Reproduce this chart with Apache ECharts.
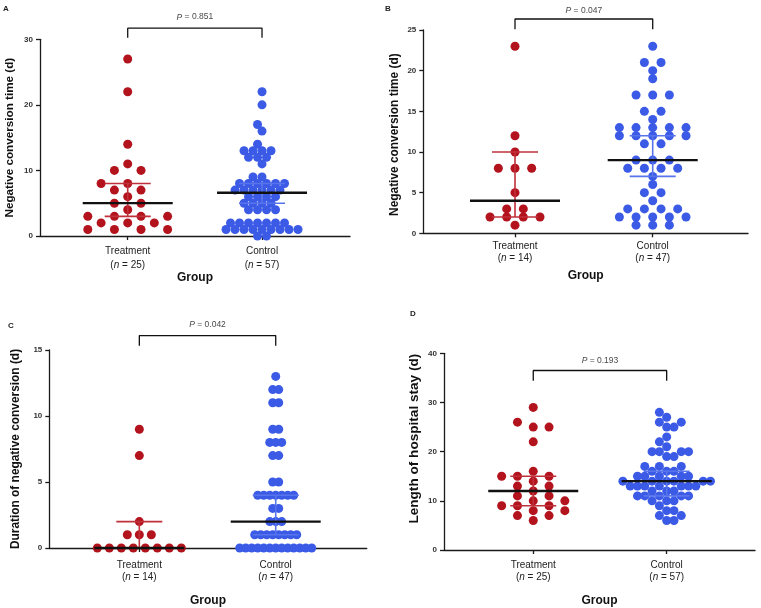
<!DOCTYPE html>
<html><head><meta charset="utf-8">
<script src="https://cdn.jsdelivr.net/npm/echarts@6/dist/echarts.min.js"></script>
<style>html,body{margin:0;padding:0;background:#fff}#c{width:761px;height:608px}</style>
</head><body><div id="c"></div>
<script>
// ---------------- data ----------------
const groups = ['Treatment', 'Control'];
const panelLetters = ['A', 'B', 'C', 'D'];
const yTitles = ['Negative conversion time (d)', 'Negative conversion time (d)',
                 'Duration of negative conversion (d)', 'Length of hospital stay (d)'];
const yMaxes = [30, 25, 15, 40];
const yIntervals = [10, 5, 5, 10];
const nCounts = [[25, 57], [14, 47], [14, 47], [25, 57]];
const pValues = ['0.851', '0.047', '0.042', '0.193'];

const aTreatment = [27,22,14,11,10,10,8,8,7,7,6,5,5,4,3,3,3,3,2,2,2,1,1,1,1];
const aControl = [22,20,17,16,14,13,13,13,13,12,12,12,11,9,9,8,8,8,8,8,8,7,7,7,7,7,7,
                  6,6,6,6,5,5,5,5,4,4,4,4,2,2,2,2,2,2,2,1,1,1,1,1,1,1,1,1,0,0];
const bTreatment = [23,12,10,8,8,8,5,3,3,2,2,2,2,1];
const bControl = [23,21,21,20,19,17,17,17,15,15,14,13,13,13,13,13,12,12,12,12,12,11,11,
                  9,9,9,8,8,8,8,7,6,5,5,4,3,3,3,3,2,2,2,2,2,1,1,1];
const cTreatment = [9,7,2,1,1,1,0,0,0,0,0,0,0,0];
const cControl = [13,12,12,11,11,9,9,8,8,8,7,7,5,5,4,4,4,4,4,4,4,3,3,2,2,2,
                  1,1,1,1,1,1,1,1,0,0,0,0,0,0,0,0,0,0,0,0,0];
const dTreatment = [29,26,25,25,22,16,15,15,15,14,13,13,12,11,11,10,10,9,9,9,8,8,7,7,6];
const dControl = [28,27,26,26,25,25,23,22,21,20,20,20,20,19,19,17,17,17,16,16,16,
                  15,15,15,15,15,14,14,14,14,14,14,13,13,13,13,13,13,13,12,12,12,
                  11,11,11,11,11,10,10,10,9,8,8,7,7,6,6];
const panelValues = [[aTreatment, aControl], [bTreatment, bControl],
                     [cTreatment, cControl], [dTreatment, dControl]];

const medians = [[5, 6.6], [4, 9], [0, 2], [12, 14]];
const lowerQuartiles = [[3, 5], [2, 7], [0, 1], [9, 11]];
const upperQuartiles = [[8, 8], [10, 12], [2, 4], [15, 16]];

// ---------------- layout / style ----------------
const FONT = 'Liberation Sans, Arial, Helvetica, sans-serif';
const dotColors = ['#b3131d', '#3b5ae6'];
const barColors = ['#c0303a', '#5874ec'];
const layout = [
  {grid:{left:40, top:39.3, width:310, height:196.7}, xMin:0.347, xMax:2.655, letter:[3, 5],
   titleSize:11.7, titleGap:24, titlePad:[0,0,0,0], labMargin:8.7, labLH:14, groupGap:34,
   pDist:6, bTop:31.7, bFoot:30.24,
   swarm:[{L:13.3,k:2,B:9.3},{L:4.5,k:2,B:9.3}]},
  {grid:{left:423.3, top:30, width:324.7, height:203.3}, xMin:0.334, xMax:2.692, letter:[385, 5],
   titleSize:11.9, titleGap:23, titlePad:[0,6,0,0], labMargin:6.4, labLH:12.5, groupGap:36.5,
   pDist:3, bTop:26.35, bFoot:25.08,
   swarm:[{L:8.33,k:2,B:0},{L:8.33,k:2,B:0}]},
  {grid:{left:49.3, top:350, width:317.4, height:198.7}, xMin:0.340, xMax:2.667, letter:[8, 322],
   titleSize:11.9, titleGap:28, titlePad:[0,0,0,0], labMargin:10.7, labLH:12.6, groupGap:47,
   pDist:5.5, bTop:16.09, bFoot:15.33,
   swarm:[{L:6,k:2,B:0},{L:3,k:2,B:0}]},
  {grid:{left:444, top:353.3, width:311, height:197.7}, xMin:0.331, xMax:2.662, letter:[410, 310],
   titleSize:13.6, titleGap:23, titlePad:[0,0,0,26], labMargin:8.8, labLH:12.3, groupGap:45,
   pDist:5, bTop:36.5, bFoot:34.4,
   swarm:[{L:15.8,k:1,B:8},{L:7.3,k:1,B:8}]}
];
const dotSize = 9;

// ---------------- swarm layout (computed from the values) ----------------
function swarm(values, cfg, pxY) {
  const rows = new Map();
  values.forEach((v, idx) => { if (!rows.has(v)) rows.set(v, []); rows.get(v).push(idx); });
  const keys = [...rows.keys()].sort((a, b) => a - b);
  const placed = [];
  const out = new Array(values.length);
  const blocked = (c, y) => placed.some(p => Math.abs(p.y - y) < cfg.B && Math.abs(p.c - c) < 0.01);
  let sign = 1;
  for (const v of keys) {
    const idxs = rows.get(v), n = idxs.length, y = v * pxY;
    if (cfg.k === 1) {
      // point-by-point placement on the lattice, alternating sides
      for (const idx of idxs) {
        let c = 0;
        for (let s = 0; s <= 30; s++) {
          const opts = s === 0 ? [0] : [sign * s, -sign * s];
          const free = opts.find(o => !blocked(o, y));
          if (free !== undefined) { c = free; break; }
        }
        if (c !== 0) sign = -Math.sign(c);
        placed.push({c, y}); out[idx] = c * cfg.L;
      }
      continue;
    }
    const base = idxs.map((_, i) => (i - (n - 1) / 2) * cfg.k);
    const cands = [0];
    for (let s = 1; s <= 14; s++) cands.push(-s, s);
    let best = 0, bestHits = Infinity;
    for (const s of cands) {
      let hits = 0;
      for (const b of base) if (blocked(b + s, y)) hits++;
      if (hits < bestHits) { bestHits = hits; best = s; if (hits === 0) break; }
    }
    base.forEach((b, i) => { const c = b + best; placed.push({c, y}); out[idxs[i]] = c * cfg.L; });
  }
  return out;
}

// ---------------- build option ----------------
const chart = echarts.init(document.getElementById('c'), null, {renderer: 'canvas'});
const grids = [], xAxes = [], yAxes = [], series = [], graphics = [];
const axisCol = '#1a1a1a';

layout.forEach((L, i) => {
  grids.push(Object.assign({containLabel: false}, L.grid));
  const ns = nCounts[i];
  xAxes.push({
    type: 'value', gridIndex: i, min: L.xMin, max: L.xMax,
    axisLine: {show: true, onZero: false, lineStyle: {color: axisCol, width: 1.3}},
    axisTick: {show: true, customValues: [1, 2], length: 4, lineStyle: {color: axisCol, width: 1.3}},
    axisLabel: {
      show: true, customValues: [1, 2], margin: L.labMargin,
      formatter: v => { const g = Math.round(v) - 1; return '{a|' + groups[g] + '}\n{a|(}{i|n}{a| = ' + ns[g] + ')}'; },
      rich: {
        a: {fontSize: 10, color: '#222', fontFamily: FONT, lineHeight: L.labLH},
        i: {fontSize: 10, color: '#222', fontFamily: FONT, fontStyle: 'italic', lineHeight: L.labLH}
      }
    },
    splitLine: {show: false},
    name: 'Group', nameLocation: 'middle', nameGap: L.groupGap,
    nameTextStyle: {fontSize: 12, fontWeight: 'bold', color: '#111', fontFamily: FONT}
  });
  yAxes.push({
    type: 'value', gridIndex: i, min: 0, max: yMaxes[i], interval: yIntervals[i],
    axisLine: {show: true, onZero: false, lineStyle: {color: axisCol, width: 1.3}},
    axisTick: {show: true, length: 4, lineStyle: {color: axisCol, width: 1.3}},
    axisLabel: {fontSize: 8, fontWeight: 'bold', color: '#333', fontFamily: FONT, margin: 7},
    splitLine: {show: false},
    name: yTitles[i], nameLocation: 'middle', nameRotate: 90, nameGap: L.titleGap,
    nameTextStyle: {fontSize: L.titleSize, fontWeight: 'bold', color: '#111', fontFamily: FONT, padding: L.titlePad}
  });
  [0, 1].forEach(g => {
    series.push({
      id: 'dots-' + i + '-' + g, type: 'scatter', xAxisIndex: i, yAxisIndex: i,
      symbol: 'circle', symbolSize: dotSize, clip: false, silent: true, z: 2,
      itemStyle: {color: dotColors[g], opacity: 1},
      data: []
    });
  });
  series.push({
    type: 'custom', xAxisIndex: i, yAxisIndex: i, z: 5, silent: true, clip: false,
    encode: {x: 0, y: 1},
    data: [[1, medians[i][0], lowerQuartiles[i][0], upperQuartiles[i][0], 0],
           [2, medians[i][1], lowerQuartiles[i][1], upperQuartiles[i][1], 1]],
    renderItem: (params, api) => {
      const x = api.value(0), g = api.value(4);
      const pm = api.coord([x, api.value(1)]);
      const p1 = api.coord([x, api.value(2)]);
      const p3 = api.coord([x, api.value(3)]);
      const c = barColors[g], hw = 23, mw = 45;
      const st = {stroke: c, lineWidth: 1.6};
      return {type: 'group', children: [
        {type: 'line', shape: {x1: p1[0], y1: p1[1], x2: p3[0], y2: p3[1]}, style: st},
        {type: 'line', shape: {x1: p1[0] - hw, y1: p1[1], x2: p1[0] + hw, y2: p1[1]}, style: st},
        {type: 'line', shape: {x1: p3[0] - hw, y1: p3[1], x2: p3[0] + hw, y2: p3[1]}, style: st},
        {type: 'line', shape: {x1: pm[0] - mw, y1: pm[1], x2: pm[0] + mw, y2: pm[1]},
         style: {stroke: '#111', lineWidth: 2.3}}
      ]};
    }
  });
  series.push({
    type: 'line', xAxisIndex: i, yAxisIndex: i, clip: false, silent: true, z: 4,
    symbol: 'none', lineStyle: {color: '#111', width: 1.3},
    data: [[1, L.bFoot], [1, L.bTop], [2, L.bTop], [2, L.bFoot]]
  });
  series.push({
    type: 'scatter', xAxisIndex: i, yAxisIndex: i, clip: false, silent: true, z: 4,
    symbolSize: 1, itemStyle: {color: 'rgba(0,0,0,0)'},
    data: [[1.5, L.bTop]],
    label: {show: true, position: 'top', distance: L.pDist,
      formatter: '{i|P}{t| = ' + pValues[i] + '}',
      rich: {i: {fontSize: 8.5, fontStyle: 'italic', color: '#111', fontFamily: FONT},
             t: {fontSize: 8.5, color: '#111', fontFamily: FONT}}}
  });
  graphics.push({type: 'text', left: L.letter[0], top: L.letter[1],
    style: {text: panelLetters[i], font: 'bold 8px ' + FONT, fill: '#222'}});
});

chart.setOption({
  animation: false, backgroundColor: '#fff',
  grid: grids, xAxis: xAxes, yAxis: yAxes, series: series, graphic: graphics
});

// place dots: swarm offsets converted through the axes' scales
const upd = [];
layout.forEach((L, i) => {
  const p10 = chart.convertToPixel({gridIndex: i}, [1, 0]);
  const p21 = chart.convertToPixel({gridIndex: i}, [2, 1]);
  const pxX = p21[0] - p10[0];
  const pxY = p10[1] - p21[1];
  [0, 1].forEach(g => {
    const vals = panelValues[i][g];
    const offs = swarm(vals, L.swarm[g], pxY);
    upd.push({id: 'dots-' + i + '-' + g, data: vals.map((v, k) => [g + 1 + offs[k] / pxX, v])});
  });
});
chart.setOption({series: upd});
</script></body></html>
